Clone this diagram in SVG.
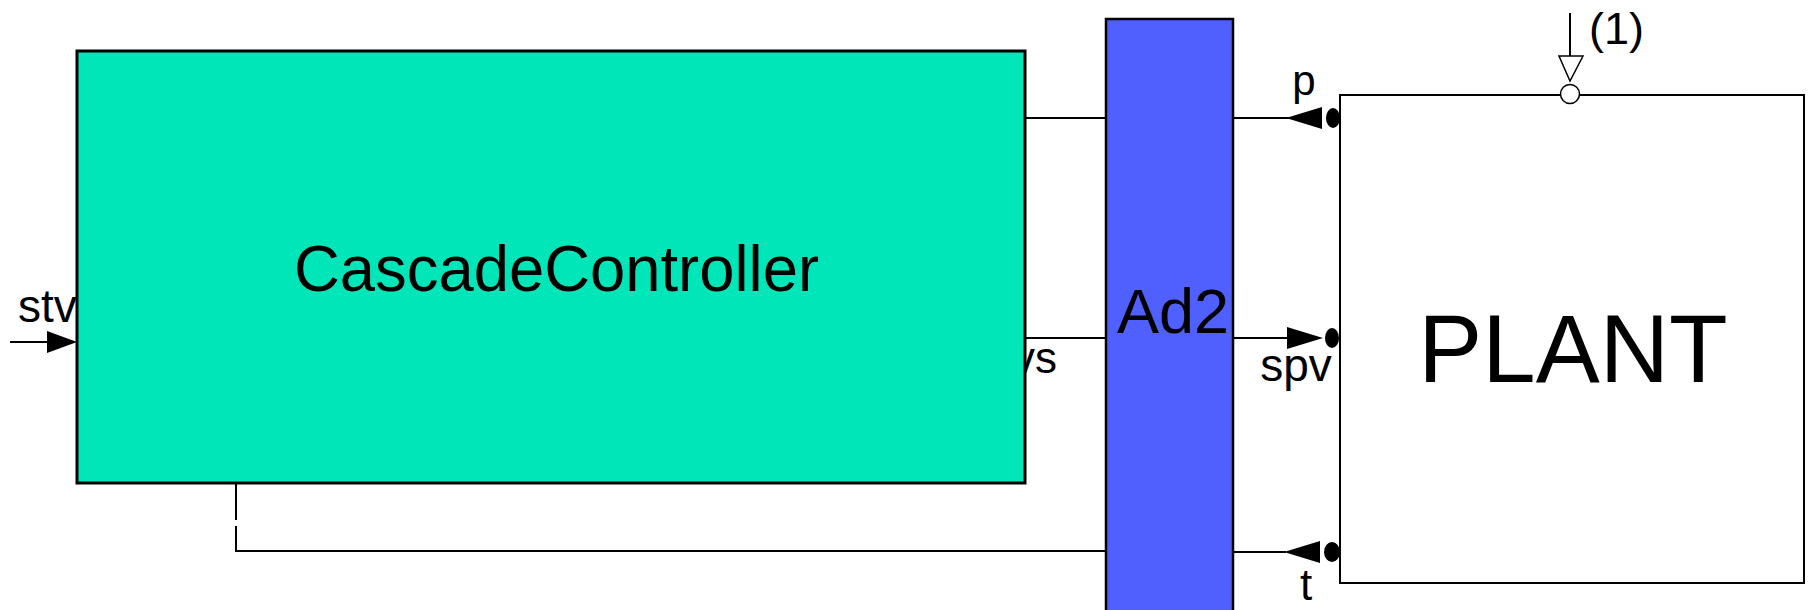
<svg xmlns="http://www.w3.org/2000/svg" width="1814" height="610" viewBox="0 0 1814 610">
<style>
  .lbl { font-family: "Liberation Sans", Arial, sans-serif; fill: #000; }
  .wire { fill: none; stroke: #000; stroke-width: 2; }
  .head { fill: #000; stroke: none; }
</style>
<rect x="0" y="0" width="1814" height="610" fill="#fff"/>
<!-- labels partially covered by blocks -->
<text class="lbl" x="18" y="322" font-size="46">stv</text>
<text class="lbl" x="1057" y="373" font-size="44" text-anchor="end">vs</text>
<g id="connectors">
  <path class="wire" d="M10 342 H50"/>
  <polygon class="head" points="47,331 77,342 47,353"/>
  <path class="wire" d="M1025 118 H1106"/>
  <path class="wire" d="M1025 338 H1106"/>
  <path class="wire" d="M236 483 V520 M236 526 V551 H1106"/>
  <path class="wire" d="M1233 118 H1290"/>
  <polygon class="head" points="1286,118 1322,107 1322,129"/>
  <ellipse class="head" cx="1333" cy="118" rx="7" ry="10"/>
  <path class="wire" d="M1233 338 H1290"/>
  <polygon class="head" points="1287,327 1323,338 1287,349"/>
  <ellipse class="head" cx="1332" cy="338" rx="7" ry="10"/>
  <path class="wire" d="M1233 552 H1286"/>
  <polygon class="head" points="1284,552 1320,541 1320,563"/>
  <ellipse class="head" cx="1332" cy="552" rx="8" ry="10"/>
  <path class="wire" d="M1570 13 V58"/>
</g>
<g id="CascadeController">
  <rect x="77" y="51" width="948" height="432" fill="#00E6B8" stroke="#000" stroke-width="3"/>
  <text class="lbl" x="294" y="291" font-size="64" textLength="525" lengthAdjust="spacingAndGlyphs">CascadeController</text>
</g>
<g id="Ad2">
  <rect x="1106" y="19" width="127" height="600" fill="#5060FF" stroke="#000" stroke-width="2.5"/>
  <text class="lbl" x="1173" y="333" font-size="63" text-anchor="middle">Ad2</text>
</g>
<g id="PLANT">
  <rect x="1340" y="95" width="464" height="488" fill="#fff" stroke="#000" stroke-width="2"/>
  <text class="lbl" x="1573" y="382" font-size="96" text-anchor="middle">PLANT</text>
  <text class="lbl" x="1304" y="95" font-size="42" text-anchor="middle">p</text>
  <text class="lbl" x="1296" y="381" font-size="46" text-anchor="middle">spv</text>
  <text class="lbl" x="1306" y="600" font-size="44" text-anchor="middle">t</text>
  <polygon points="1559,56 1583,56 1570,81" fill="#fff" stroke="#000" stroke-width="1.5"/>
  <circle cx="1570" cy="94" r="9.5" fill="#fff" stroke="#000" stroke-width="1.5"/>
  <text class="lbl" x="1589" y="44" font-size="45">(1)</text>
</g>
</svg>
